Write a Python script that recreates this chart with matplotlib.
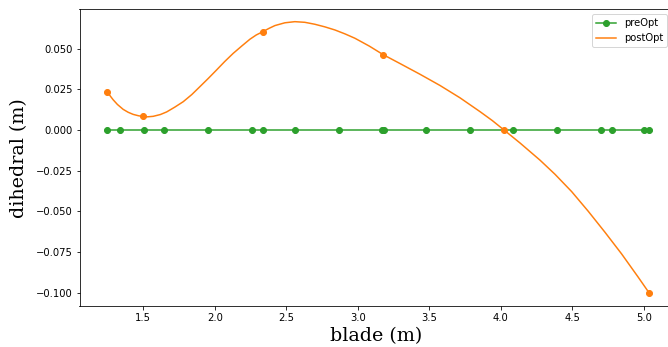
import matplotlib
matplotlib.use("Agg")
import matplotlib.pyplot as plt

# blade stations of the baseline geometry (dihedral is zero everywhere)
pre_x = [1.25, 1.34, 1.505, 1.645, 1.95, 2.26, 2.34, 2.56, 2.87, 3.17, 3.185,
         3.475, 3.785, 4.085, 4.395, 4.70, 4.78, 5.00, 5.035]
pre_y = [0.0] * len(pre_x)

# optimised dihedral control points
ctrl_x = [1.25, 1.50, 2.335, 3.178, 4.022, 5.035]
ctrl_y = [0.0235, 0.0083, 0.0604, 0.0463, 0.0, -0.100]

# optimised dihedral distribution along the blade
post_x = [1.25, 1.27, 1.29, 1.32, 1.36, 1.395, 1.43, 1.465, 1.496, 1.53, 1.57,
          1.62, 1.664, 1.72, 1.78, 1.84, 1.896, 1.955, 2.013, 2.07, 2.129, 2.19,
          2.246, 2.29, 2.335, 2.38, 2.421, 2.49, 2.56, 2.63, 2.70, 2.77, 2.84,
          2.91, 2.98, 3.08, 3.178, 3.294, 3.434, 3.574, 3.714, 3.854, 3.94,
          4.022, 4.134, 4.273, 4.378, 4.495, 4.611, 4.727, 4.844, 4.960, 5.035]
post_y = [0.0235, 0.0209, 0.0186, 0.0157, 0.0127, 0.0109, 0.0096, 0.0088,
          0.0083, 0.0081, 0.0084, 0.0095, 0.0111, 0.0140, 0.0174, 0.0218,
          0.0266, 0.0317, 0.0369, 0.0421, 0.0471, 0.0517, 0.0558, 0.0584,
          0.0604, 0.0625, 0.0642, 0.0659, 0.0666, 0.0662, 0.0650, 0.0634,
          0.0615, 0.0591, 0.0564, 0.0516, 0.0463, 0.0409, 0.0343, 0.0274,
          0.0198, 0.0113, 0.0058, 0.0, -0.0080, -0.0185, -0.0272, -0.0379,
          -0.0500, -0.0628, -0.0762, -0.0905, -0.100]

W, H = 668, 347
fig = plt.figure(figsize=(W / 72, H / 72), dpi=72)
ax = fig.add_axes([79.5 / W, 1 - 306 / H, (672 - 79.5) / W, (306 - 9.3) / H])

ax.plot(pre_x, pre_y, "-o", color="tab:green", label="preOpt", zorder=3)
ax.plot(post_x, post_y, "-", color="tab:orange", label="postOpt", zorder=2)
ax.plot(ctrl_x, ctrl_y, "o", color="tab:orange", zorder=4)

ax.set_xlim(1.055, 5.196)
ax.set_ylim(-0.1082, 0.0742)
ax.set_xlabel("blade (m)", family="DejaVu Serif", fontsize=19)
ax.set_ylabel("dihedral (m)", family="DejaVu Serif", fontsize=19, labelpad=7.5)
ax.legend(loc="upper right")

fig.savefig("out.png", dpi=72, facecolor="white")
